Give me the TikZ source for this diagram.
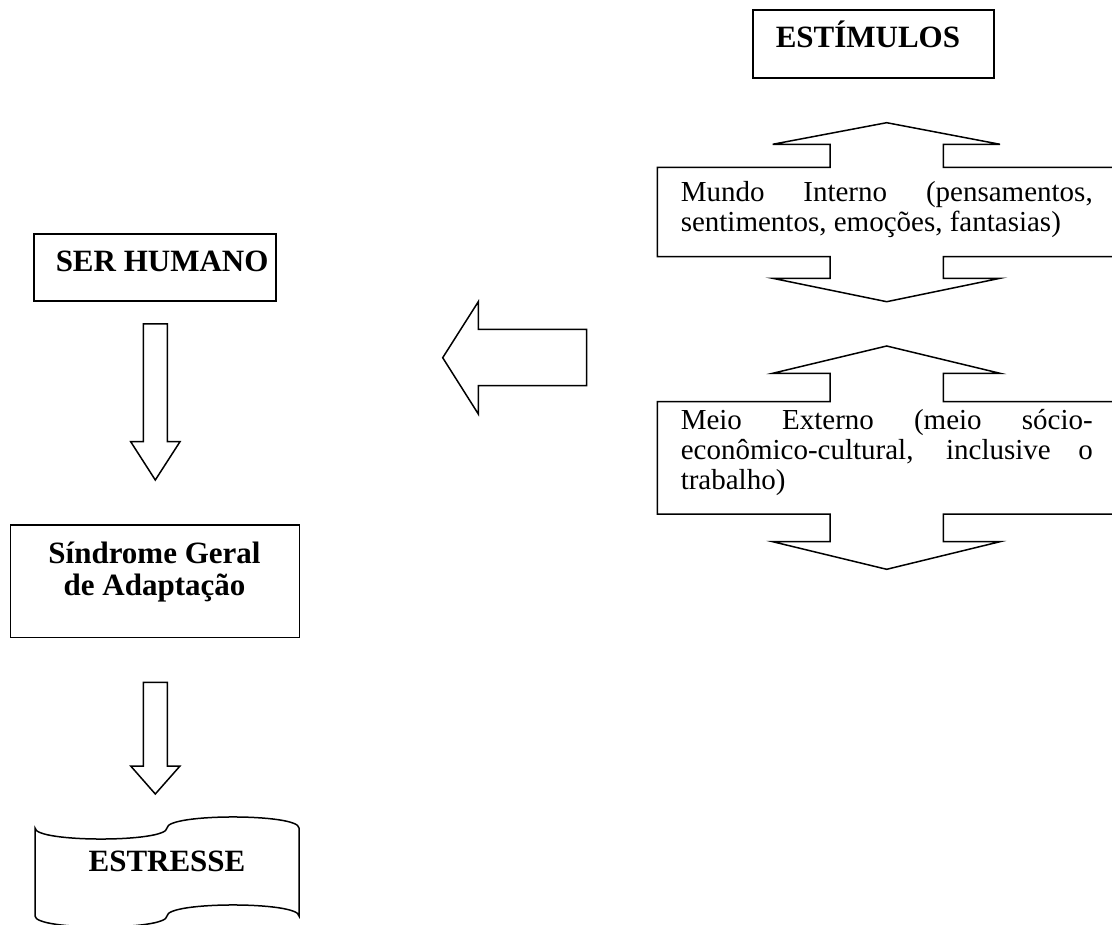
\documentclass[tikz,border=0pt]{standalone}
\usepackage{fontspec}
\setmainfont{Liberation Serif}
\begin{document}
\begin{tikzpicture}[x=1pt,y=-1pt,line width=1.5pt,line join=miter,
  shapebox/.style={draw=black,fill=white},
  boldtxt/.style={font=\fontsize{31}{32}\selectfont\bfseries,inner sep=0pt},
  bodytxt/.style={font=\fontsize{29}{30}\selectfont,inner sep=0pt}]
\useasboundingbox (0,0) rectangle (1112,925);
\clip (0,0) rectangle (1112,925);
% ESTIMULOS
\draw[shapebox] (753,10) rectangle (994,78);
\node[boldtxt,anchor=base west] (estimulos) at (775,48) {ESTÍMULOS};
% Mundo interno double arrow box
\draw[shapebox] (657.3,167.3) -- (830,167.3) -- (830,144.3) -- (772.7,144.3) -- (886.7,122.7)
  -- (1000,144.3) -- (943.3,144.3) -- (943.3,167.3) -- (1116,167.3) -- (1116,256.7)
  -- (943.3,256.7) -- (943.3,278.3) -- (1000,278.3) -- (886.7,301.7) -- (772.7,278.3)
  -- (830,278.3) -- (830,256.7) -- (657.3,256.7) -- cycle;
\node[bodytxt,anchor=base west] (mundo1) at (680,201.7) {\makebox[412pt][s]{Mundo Interno (pensamentos,}};
\node[bodytxt,anchor=base west] (mundo2) at (680,231.7) {sentimentos, emoções, fantasias)};
% Meio externo double arrow box
\draw[shapebox] (657.3,401.7) -- (830,401.7) -- (830,373.3) -- (772.7,373.3) -- (886.7,346)
  -- (1000,373.3) -- (943.3,373.3) -- (943.3,401.7) -- (1116,401.7) -- (1116,514)
  -- (943.3,514) -- (943.3,541.7) -- (1000,541.7) -- (886.7,569.3) -- (772.7,541.7)
  -- (830,541.7) -- (830,514) -- (657.3,514) -- cycle;
\node[bodytxt,anchor=base west] (meio1) at (680,430) {\makebox[412pt][s]{Meio Externo (meio sócio-}};
\node[bodytxt,anchor=base west] (meio2) at (680,460) {\makebox[412pt][s]{econômico-cultural, inclusive o}};
\node[bodytxt,anchor=base west] (meio3) at (680,489.5) {trabalho)};
% left block arrow
\draw[shapebox] (586.7,329.3) -- (478.3,329.3) -- (478.3,301.7) -- (442.7,357.7)
  -- (478.3,414) -- (478.3,385.7) -- (586.7,385.7) -- cycle;
% SER HUMANO
\draw[shapebox] (34,234) rectangle (276,301);
\node[boldtxt,anchor=base west] (ser) at (55,272) {SER HUMANO};
% down arrow 1
\draw[shapebox] (143.3,324) -- (167.3,324) -- (167.3,441.7) -- (180,441.7) -- (155.3,480)
  -- (130.7,441.7) -- (143.3,441.7) -- cycle;
% Sindrome
\draw[shapebox] (10.7,525) rectangle (299.3,637.7);
\node[boldtxt,anchor=base] (sind1) at (154.5,563) {Síndrome Geral};
\node[boldtxt,anchor=base] (sind2) at (154.5,595) {de Adaptação};
% down arrow 2
\draw[shapebox] (143.3,682.3) -- (167.3,682.3) -- (167.3,766) -- (180,766) -- (155.3,794)
  -- (130.7,766) -- (143.3,766) -- cycle;
% ESTRESSE punched tape
\draw[shapebox] (35,828) .. controls (35,842.7) and (167,842.7) .. (167,828)
  .. controls (167,813.3) and (299,813.3) .. (299,828) -- (299,916)
  .. controls (299,901.3) and (167,901.3) .. (167,916)
  .. controls (167,930.7) and (35,930.7) .. (35,916) -- cycle;
\node[boldtxt,anchor=base] (estresse) at (167,871.7) {ESTRESSE};
\end{tikzpicture}
\end{document}
